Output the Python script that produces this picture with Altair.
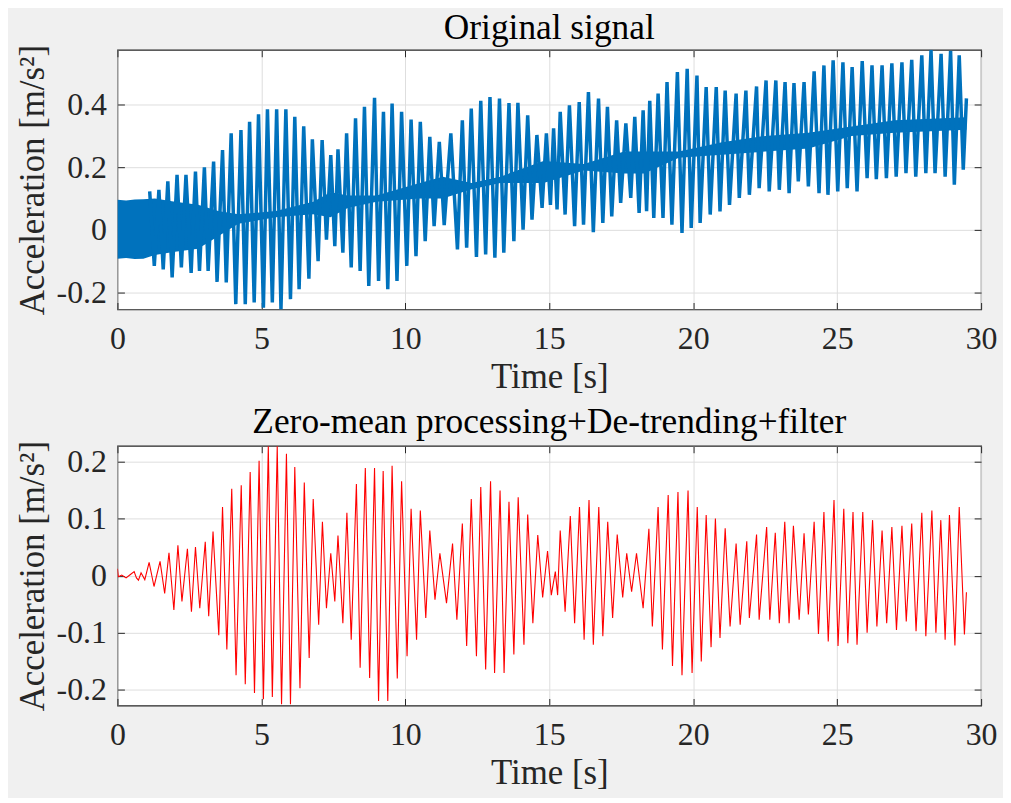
import altair as alt
import pandas as pd

FONT = "'Liberation Serif', 'Times New Roman', Times, 'DejaVu Serif', serif"
BLUE = "#0072BD"
RED = "#FF0000"
INK = "#262626"
GRID = "#dedede"

x_ticks = [0, 5, 10, 15, 20, 25, 30]
top_y_ticks = [-0.2, 0, 0.2, 0.4]
bot_y_ticks = [-0.2, -0.1, 0, 0.1, 0.2]
top_title = "Original signal"
bot_title = "Zero-mean processing+De-trending+filter"
x_title = "Time [s]"
y_title = "Acceleration [m/s²]"

# dense high-frequency core of the original signal (upper / lower envelope)
core_t = [0.0, 0.3, 0.6, 0.9, 1.3, 2.0, 2.8, 3.5, 4.2, 5.5, 6.8, 7.4, 8.0, 9.0,
          10.5, 11.3, 12.3, 13.3, 14.8, 16.2, 17.6, 18.3, 19.5, 21.0, 22.5,
          24.0, 25.5, 27.0, 29.49]
core_hi = [0.096, 0.094, 0.097, 0.098, 0.1, 0.09, 0.08, 0.06, 0.05, 0.06, 0.09,
           0.12, 0.11, 0.11, 0.15, 0.17, 0.15, 0.17, 0.22, 0.21, 0.25, 0.25,
           0.25, 0.28, 0.3, 0.31, 0.33, 0.35, 0.36]
core_lo = [-0.092, -0.09, -0.093, -0.092, -0.08, -0.07, -0.06, -0.02, 0.02,
           0.04, 0.05, 0.04, 0.07, 0.09, 0.1, 0.1, 0.13, 0.15, 0.15, 0.19,
           0.18, 0.18, 0.23, 0.24, 0.25, 0.26, 0.3, 0.31, 0.32]

# cycle extremes of the original signal
top_t = [1.12, 1.28, 1.44, 1.59, 1.75, 1.90, 2.07, 2.22, 2.38, 2.56, 2.71, 2.85,
         3.02, 3.15, 3.34, 3.46, 3.65, 3.78, 3.95, 4.11, 4.29, 4.44, 4.59, 4.75,
         4.90, 5.07, 5.21, 5.38, 5.53, 5.68, 5.85, 6.01, 6.16, 6.31, 6.47, 6.65,
         6.77, 6.97, 7.11, 7.26, 7.41, 7.55, 7.66, 7.83, 7.96, 8.12, 8.27, 8.43,
         8.58, 8.73, 8.93, 9.07, 9.24, 9.39, 9.54, 9.71, 9.87, 10.05, 10.20, 10.37,
         10.52, 10.69, 10.85, 11.00, 11.18, 11.35, 11.58, 11.81, 11.98, 12.13,
         12.29, 12.47, 12.62, 12.79, 12.94, 13.11, 13.27, 13.42, 13.60, 13.77,
         13.91, 14.09, 14.25, 14.40, 14.57, 14.75, 14.90, 15.04, 15.15, 15.27,
         15.38, 15.55, 15.70, 15.88, 16.04, 16.19, 16.36, 16.53, 16.71, 16.86,
         17.02, 17.17, 17.34, 17.48, 17.66, 17.83, 17.97, 18.12, 18.26, 18.38,
         18.49, 18.63, 18.78, 18.95, 19.09, 19.26, 19.45, 19.61, 19.79, 19.93,
         20.13, 20.24, 20.45, 20.59, 20.80, 20.93, 21.11, 21.26, 21.49, 21.60,
         21.83, 21.95, 22.20, 22.29, 22.53, 22.64, 22.87, 22.99, 23.19, 23.33,
         23.50, 23.65, 23.85, 24.00, 24.20, 24.37, 24.54, 24.68, 24.86, 25.02,
         25.20, 25.35, 25.52, 25.69, 25.87, 26.04, 26.21, 26.36, 26.56, 26.71,
         26.90, 27.05, 27.25, 27.39, 27.59, 27.73, 27.94, 28.08, 28.26, 28.40,
         28.61, 28.75, 28.94, 29.07, 29.24, 29.38, 29.49]
top_v = [0.123, -0.115, 0.128, -0.126, 0.155, -0.152, 0.176, -0.12, 0.176, -0.137,
         0.186, -0.131, 0.2, -0.131, 0.218, -0.166, 0.255, -0.168, 0.308, -0.237,
         0.319, -0.237, 0.345, -0.232, 0.369, -0.248, 0.385, -0.232, 0.385, -0.254,
         0.385, -0.221, 0.361, -0.189, 0.331, -0.156, 0.289, -0.1, 0.287, -0.031,
         0.239, -0.052, 0.257, -0.073, 0.308, -0.12, 0.356, -0.131, 0.393, -0.179,
         0.422, -0.163, 0.377, -0.189, 0.403, -0.163, 0.377, -0.115, 0.352, -0.084,
         0.345, -0.036, 0.297, 0.012, 0.281, 0.015, 0.308, -0.062, 0.35, -0.057,
         0.387, -0.086, 0.412, -0.078, 0.424, -0.089, 0.419, -0.073, 0.405, -0.036,
         0.406, 0.001, 0.366, 0.033, 0.303, 0.07, 0.308, 0.08, 0.324, 0.065,
         0.377, 0.049, 0.398, 0.012, 0.408, 0.017, 0.44, -0.007, 0.419, 0.022,
         0.393, 0.043, 0.35, 0.086, 0.34, 0.102, 0.361, 0.054, 0.382, 0.06,
         0.412, 0.038, 0.435, 0.038, 0.472, 0.017, 0.504, -0.01, 0.514, 0.006,
         0.493, 0.022, 0.456, 0.049, 0.456, 0.059, 0.445, 0.08, 0.435, 0.102,
         0.445, 0.112, 0.458, 0.133, 0.477, 0.123, 0.477, 0.128, 0.472, 0.117,
         0.469, 0.155, 0.472, 0.139, 0.506, 0.117, 0.525, 0.112, 0.541, 0.123,
         0.535, 0.133, 0.52, 0.123, 0.539, 0.165, 0.525, 0.162, 0.525, 0.165,
         0.532, 0.17, 0.535, 0.181, 0.543, 0.17, 0.557, 0.181, 0.575, 0.181,
         0.562, 0.17, 0.572, 0.144, 0.557, 0.192, 0.42]

# processed signal (zero-mean, de-trended, filtered)
bot_t = [0.00, 0.03, 0.15, 0.30, 0.45, 0.58, 0.66, 0.73, 0.82, 0.95, 1.10, 1.27,
         1.48, 1.64, 1.79, 1.96, 2.10, 2.24, 2.43, 2.57, 2.71, 2.86, 3.05, 3.17,
         3.32, 3.52, 3.65, 3.80, 3.97, 4.12, 4.30, 4.44, 4.61, 4.76, 4.92, 5.07,
         5.24, 5.38, 5.55, 5.70, 5.87, 6.01, 6.16, 6.34, 6.49, 6.66, 6.80, 6.99,
         7.12, 7.26, 7.41, 7.55, 7.66, 7.83, 7.97, 8.12, 8.30, 8.43, 8.61, 8.76,
         8.93, 9.07, 9.23, 9.39, 9.54, 9.72, 9.87, 10.06, 10.20, 10.39, 10.52, 10.71,
         10.85, 11.03, 11.20, 11.43, 11.64, 11.79, 11.98, 12.13, 12.29, 12.47,
         12.62, 12.79, 12.96, 13.10, 13.29, 13.43, 13.60, 13.77, 13.92, 14.12,
         14.25, 14.43, 14.60, 14.77, 14.94, 15.07, 15.21, 15.29, 15.38, 15.55,
         15.73, 15.88, 16.05, 16.21, 16.38, 16.53, 16.72, 16.86, 17.03, 17.20,
         17.36, 17.55, 17.69, 17.86, 18.03, 18.26, 18.46, 18.58, 18.78, 18.93,
         19.13, 19.28, 19.47, 19.61, 19.82, 19.96, 20.14, 20.28, 20.45, 20.62,
         20.77, 20.93, 21.11, 21.28, 21.49, 21.63, 21.86, 21.95, 22.20, 22.29,
         22.55, 22.66, 22.85, 22.99, 23.18, 23.33, 23.48, 23.68, 23.85, 24.00,
         24.20, 24.35, 24.54, 24.69, 24.89, 25.03, 25.23, 25.37, 25.55, 25.69,
         25.89, 26.04, 26.23, 26.38, 26.56, 26.72, 26.90, 27.06, 27.25, 27.40,
         27.59, 27.74, 27.94, 28.08, 28.29, 28.43, 28.60, 28.75, 28.90, 29.09,
         29.24, 29.42, 29.49]
bot_v = [0.012, -0.002, 0.001, -0.004, 0.002, 0.007, -0.004, -0.008, 0.005, -0.007,
         0.023, -0.019, 0.025, -0.031, 0.04, -0.06, 0.053, -0.045, 0.047, -0.063,
         0.05, -0.057, 0.059, -0.071, 0.077, -0.104, 0.12, -0.129, 0.152, -0.174,
         0.158, -0.19, 0.181, -0.205, 0.201, -0.216, 0.226, -0.212, 0.226, -0.225,
         0.213, -0.225, 0.19, -0.197, 0.163, -0.144, 0.134, -0.086, 0.094, -0.057,
         0.039, -0.045, 0.07, -0.083, 0.11, -0.112, 0.16, -0.161, 0.188, -0.179,
         0.188, -0.219, 0.183, -0.219, 0.192, -0.18, 0.165, -0.141, 0.117, -0.112,
         0.114, -0.074, 0.079, -0.042, 0.039, -0.048, 0.056, -0.077, 0.091, -0.123,
         0.134, -0.141, 0.155, -0.164, 0.165, -0.17, 0.149, -0.17, 0.129, -0.138,
         0.137, -0.121, 0.107, -0.083, 0.071, -0.038, 0.043, -0.034, 0.007, -0.034,
         0.079, -0.063, 0.104, -0.083, 0.12, -0.112, 0.132, -0.121, 0.12, -0.106,
         0.094, -0.074, 0.072, -0.038, 0.039, -0.028, 0.039, -0.057, 0.082, -0.089,
         0.12, -0.129, 0.141, -0.158, 0.146, -0.174, 0.149, -0.17, 0.12, -0.15,
         0.106, -0.125, 0.1, -0.109, 0.083, -0.089, 0.056, -0.086, 0.06, -0.074,
         0.072, -0.077, 0.085, -0.077, 0.075, -0.083, 0.094, -0.083, 0.087, -0.077,
         0.074, -0.068, 0.094, -0.102, 0.111, -0.115, 0.132, -0.123, 0.117, -0.118,
         0.111, -0.121, 0.111, -0.1, 0.097, -0.089, 0.079, -0.083, 0.085, -0.095,
         0.087, -0.08, 0.091, -0.097, 0.11, -0.106, 0.114, -0.1, 0.097, -0.112,
         0.106, -0.122, 0.12, -0.103, -0.029]

core_df = pd.DataFrame({"t": core_t, "hi": core_hi, "lo": core_lo})
top_df = pd.DataFrame({"t": top_t, "v": top_v})
bot_df = pd.DataFrame({"t": bot_t, "v": bot_v})

W, H = 868, 261
TICK = 7
LABEL_FS = 32
AXIS_TITLE_FS = 35
TITLE_FS = 35.5


def main_x():
    return alt.Axis(values=x_ticks, title=x_title, grid=True, gridColor=GRID,
                    domain=False, ticks=True, tickSize=TICK, offset=-TICK,
                    tickColor=INK, labelPadding=14, labelFontSize=LABEL_FS,
                    labelFont=FONT, labelColor=INK, titleFont=FONT,
                    titleFontSize=AXIS_TITLE_FS, titleFontWeight="normal",
                    titleColor=INK, titlePadding=5, labelFlush=False,
                    labelOverlap=False, labelExpr="'' + datum.value")


def main_y(vals):
    return alt.Axis(values=vals, title=y_title, grid=True, gridColor=GRID,
                    domain=False, ticks=True, tickSize=TICK, offset=-TICK,
                    tickColor=INK, labelPadding=11, labelFontSize=LABEL_FS,
                    labelFont=FONT, labelColor=INK, titleFont=FONT,
                    titleFontSize=AXIS_TITLE_FS, titleFontWeight="normal",
                    titleColor=INK, titlePadding=6, labelOverlap=False,
                    labelExpr="'' + datum.value")


def side_axis(vals, orient):
    return alt.Axis(values=vals, orient=orient, title=None, grid=False,
                    domain=False, labels=False, ticks=True, tickSize=TICK,
                    offset=-TICK, tickColor=INK)


xs = alt.Scale(domain=[0, 30], nice=False, zero=False)
ys_top = alt.Scale(domain=[-0.254, 0.575], nice=False, zero=False)
ys_bot = alt.Scale(domain=[-0.227, 0.227], nice=False, zero=False)

core = alt.Chart(core_df).mark_area(color=BLUE, opacity=1, clip=True).encode(
    x=alt.X("t:Q", scale=xs, axis=main_x()),
    y=alt.Y("hi:Q", scale=ys_top, axis=main_y(top_y_ticks)),
    y2="lo:Q",
)
top_line = alt.Chart(top_df).mark_line(color=BLUE, strokeWidth=3.5, clip=True).encode(
    x=alt.X("t:Q", scale=xs, axis=side_axis(x_ticks, "top")),
    y=alt.Y("v:Q", scale=ys_top, axis=side_axis(top_y_ticks, "right")),
)
top = alt.layer(core, top_line).resolve_axis(x="independent", y="independent").properties(
    width=W, height=H,
    title=alt.TitleParams(top_title, font=FONT, fontSize=TITLE_FS, fontWeight="normal",
                          color="black", anchor="middle", frame="group", offset=-2),
)

bot_line = alt.Chart(bot_df).mark_line(color=RED, strokeWidth=1.1, clip=True).encode(
    x=alt.X("t:Q", scale=xs, axis=main_x()),
    y=alt.Y("v:Q", scale=ys_bot, axis=main_y(bot_y_ticks)),
)
bot_ticks = alt.Chart(bot_df).mark_line(opacity=0).encode(
    x=alt.X("t:Q", scale=xs, axis=side_axis(x_ticks, "top")),
    y=alt.Y("v:Q", scale=ys_bot, axis=side_axis(bot_y_ticks, "right")),
)
bot = alt.layer(bot_line, bot_ticks).resolve_axis(x="independent", y="independent").properties(
    width=W, height=H,
    title=alt.TitleParams(bot_title, font=FONT, fontSize=TITLE_FS, fontWeight="normal",
                          color="black", anchor="middle", frame="group", offset=0),
)

chart = alt.vconcat(top, bot, spacing=9).properties(
    background="#f0f0f0",
    padding={"left": 6, "top": 0, "right": 5, "bottom": 5},
).configure_view(fill="white", stroke=INK, strokeWidth=1.2)

chart.save("out.html", embed_options={"renderer": "svg", "actions": False})
